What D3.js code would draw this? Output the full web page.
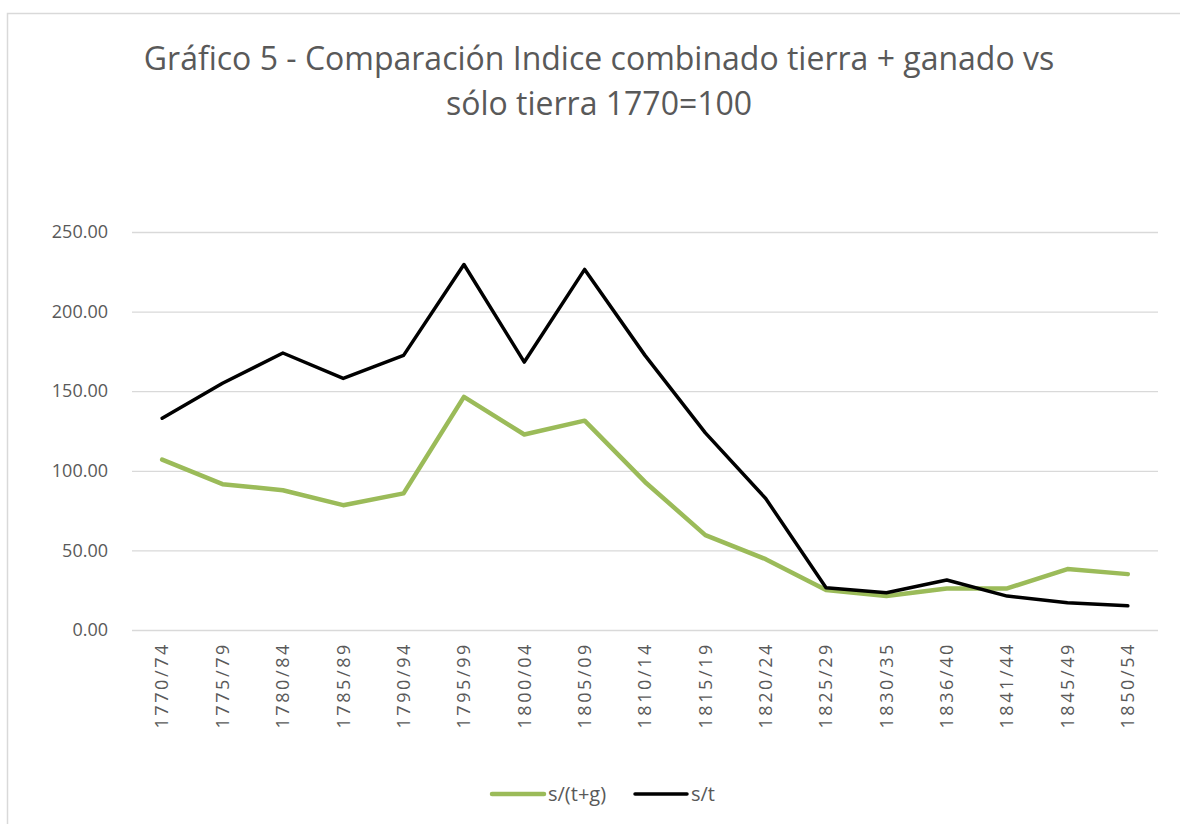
<!DOCTYPE html>
<html>
<head>
<meta charset="utf-8">
<script src="https://cdn.jsdelivr.net/npm/d3@7"></script>
<style>
  html, body { margin: 0; padding: 0; background: #fff; }
  text { font-family: "Open Sans", "Noto Sans", sans-serif; fill: #595959; }
</style>
</head>
<body>
<div id="chart"></div>
<script>
var categories = ["1770/74", "1775/79", "1780/84", "1785/89", "1790/94", "1795/99", "1800/04", "1805/09",
  "1810/14", "1815/19", "1820/24", "1825/29", "1830/35", "1836/40", "1841/44", "1845/49", "1850/54"];
var sTG = [107.0, 91.6, 87.8, 78.4, 85.8, 146.4, 122.8, 131.5, 93.0, 59.6, 44.5, 25.1, 21.3, 26.1, 26.1, 38.3, 35.1];
var sT = [133.0, 155.0, 174.0, 158.0, 172.5, 229.6, 168.3, 226.5, 172.5, 123.8, 82.6, 26.5, 23.4, 31.4, 21.3, 17.1, 15.2];
var yTicks = [0, 50, 100, 150, 200, 250];

var svgWidth = 1180, svgHeight = 824;
var plotLeft = 132, plotRight = 1158, plotTop = 232, plotBottom = 630;

var svg = d3.select("#chart")
    .append("svg")
    .attr("width", svgWidth)
    .attr("height", svgHeight);

// chart frame (only left/top edges visible in the picture)
svg.append("rect")
    .attr("x", 7.5).attr("y", 13.5)
    .attr("width", 1200).attr("height", 900)
    .attr("fill", "none")
    .attr("stroke", "#d9d9d9")
    .attr("stroke-width", 1.5);

var xScale = d3.scaleBand().domain(categories).range([plotLeft, plotRight]);
var yScale = d3.scaleLinear().domain([0, 250]).range([plotBottom, plotTop]);

// gridlines + y labels
var yAxis = d3.axisLeft(yScale).tickValues(yTicks)
    .tickSize(-(plotRight - plotLeft)).tickPadding(24)
    .tickFormat(d3.format(".2f"));
var gy = svg.append("g")
    .attr("transform", "translate(" + plotLeft + ",0)")
    .call(yAxis);
gy.select(".domain").remove();
gy.selectAll("line").attr("stroke", "#d9d9d9").attr("stroke-width", 1.3);
gy.selectAll("text").style("font-size", "18px").attr("fill", "#595959");

// x labels (rotated, slightly spaced out like the original)
var xAxis = d3.axisBottom(xScale).tickSize(0).tickPadding(0);
var gx = svg.append("g")
    .attr("transform", "translate(0," + plotBottom + ")")
    .call(xAxis);
gx.select(".domain").remove();
gx.selectAll("text")
    .style("font-size", "18px")
    .style("letter-spacing", "2.6px")
    .attr("fill", "#595959")
    .attr("transform", "rotate(-90)")
    .attr("x", -12)
    .attr("y", 0)
    .attr("dy", "0.35em")
    .attr("text-anchor", "end");

var line = function (vals) {
  return d3.line()
    .x(function (d, i) { return xScale(categories[i]) + xScale.bandwidth() / 2; })
    .y(function (d) { return yScale(d); })(vals);
};

svg.append("path")
    .attr("d", line(sTG))
    .attr("fill", "none")
    .attr("stroke", "#9bbb59")
    .attr("stroke-width", 4.5)
    .attr("stroke-linejoin", "round")
    .attr("stroke-linecap", "round");

svg.append("path")
    .attr("d", line(sT))
    .attr("fill", "none")
    .attr("stroke", "#000")
    .attr("stroke-width", 3.5)
    .attr("stroke-linejoin", "round")
    .attr("stroke-linecap", "round");

// title
var title = svg.append("text")
    .attr("text-anchor", "middle")
    .style("font-size", "32px");
title.append("tspan").attr("x", 599).attr("y", 70)
    .text("Gráfico 5 - Comparación Indice combinado tierra + ganado vs");
title.append("tspan").attr("x", 599).attr("y", 115)
    .text("sólo tierra 1770=100");

// legend
var legend = [
  { name: "s/(t+g)", color: "#9bbb59", w: 4.5, x: 492 },
  { name: "s/t", color: "#000", w: 3.5, x: 635 }
];
var lg = svg.selectAll(".leg").data(legend).enter().append("g");
lg.append("line")
    .attr("x1", function (d) { return d.x; })
    .attr("x2", function (d) { return d.x + 52; })
    .attr("y1", 794).attr("y2", 794)
    .attr("stroke", function (d) { return d.color; })
    .attr("stroke-width", function (d) { return d.w; })
    .attr("stroke-linecap", "round");
lg.append("text")
    .attr("x", function (d) { return d.x + 56; })
    .attr("y", 794)
    .attr("dy", "0.35em")
    .style("font-size", "20px")
    .text(function (d) { return d.name; });
</script>
</body>
</html>
